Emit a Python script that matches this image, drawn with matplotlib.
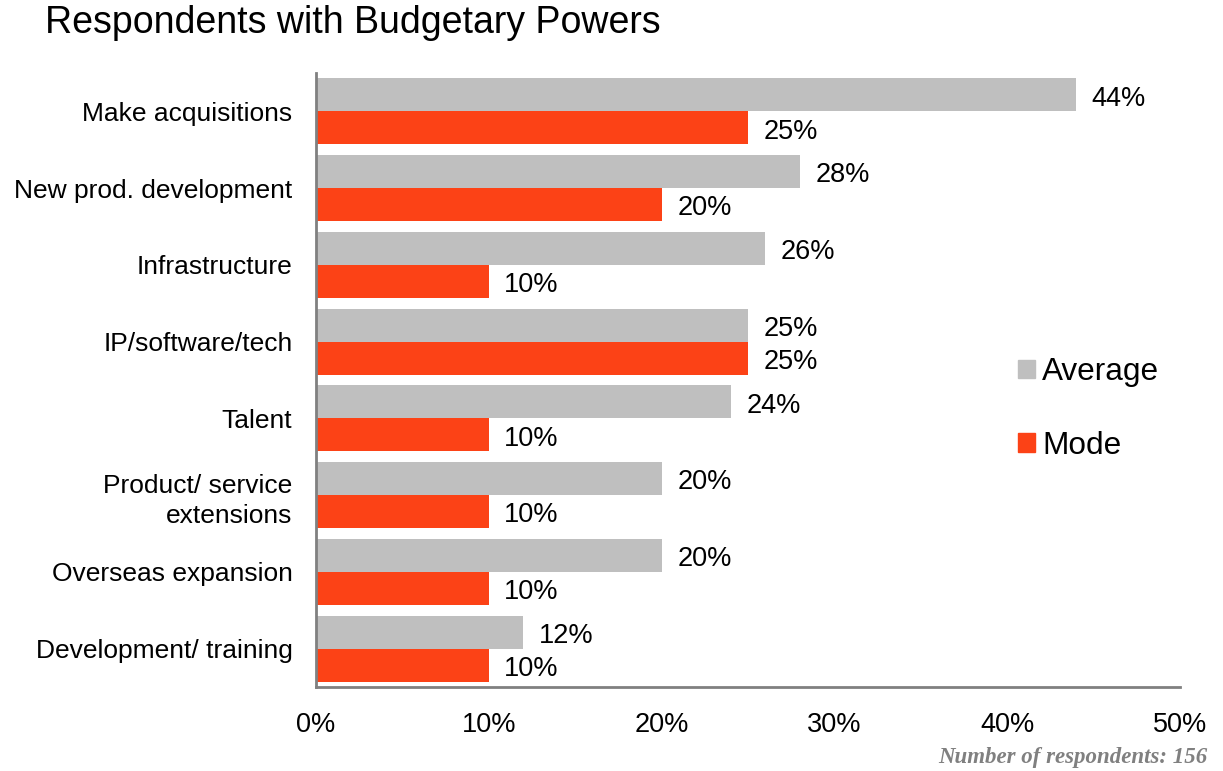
import numpy as np
import matplotlib.pyplot as plt
from matplotlib.patches import Patch

categories = ['Make acquisitions', 'New prod. development', 'Infrastructure',
              'IP/software/tech', 'Talent', 'Product/ service\nextensions',
              'Overseas expansion', 'Development/ training']
average = [44, 28, 26, 25, 24, 20, 20, 12]
mode = [25, 20, 10, 25, 10, 10, 10, 10]

plt.rcParams['font.family'] = ['Liberation Sans', 'DejaVu Sans']

fig = plt.figure(figsize=(12.23, 7.71), dpi=100)
ax = fig.add_axes([316/1223, 1-687/771, (1180-316)/1223, (687-73)/771])

y = np.arange(len(categories))
h = 0.43
ax.barh(y - h/2, average, height=h, color='#bfbfbf', label='Average')
ax.barh(y + h/2, mode, height=h, color='#fc4216', label='Mode')

for i in range(len(categories)):
    ax.text(average[i] + 0.9, y[i] - h/2 + 0.05, f'{average[i]}%', va='center', ha='left', fontsize=19.5)
    ax.text(mode[i] + 0.9, y[i] + h/2 + 0.05, f'{mode[i]}%', va='center', ha='left', fontsize=19.5)

ax.set_ylim(len(categories) - 0.5, -0.5)
ax.set_xlim(0, 50)
ax.set_yticks(y)
ax.set_yticklabels(categories, fontsize=19, linespacing=1.35)
ax.set_xticks(np.arange(0, 51, 10))
ax.set_xticklabels([f'{v}%' for v in range(0, 51, 10)], fontsize=19.5)
ax.tick_params(length=0)
ax.tick_params(axis='y', pad=17)
ax.tick_params(axis='x', pad=18)
for s in ['top', 'right']:
    ax.spines[s].set_visible(False)
for s in ['left', 'bottom']:
    ax.spines[s].set_color('#808080')
    ax.spines[s].set_linewidth(2)

handles = [Patch(color='#bfbfbf'), Patch(color='#fc4216')]
fig.legend(handles, ['Average', 'Mode'], loc='center left', bbox_to_anchor=(990/1223, 1-409/771),
           frameon=False, fontsize=22.7, handlelength=0.54, handleheight=0.54, handletextpad=0.22,
           labelspacing=1.38)

fig.text(45/1223, 1-23/771, 'Respondents with Budgetary Powers', fontsize=27, va='center', ha='left')
fig.text(1207/1223, 1-758/771, 'Number of respondents: 156', fontsize=16.5, ha='right', va='center',
         family='Liberation Serif', style='italic', weight='bold', color='#808080')

fig.savefig('out.png', dpi=100)
